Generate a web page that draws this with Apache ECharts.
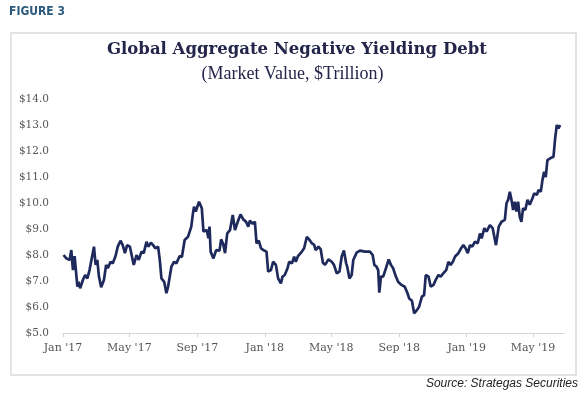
<!DOCTYPE html>
<html>
<head>
<meta charset="utf-8">
<script src="https://cdn.jsdelivr.net/npm/echarts@6/dist/echarts.min.js"></script>
<style>
  html, body { margin: 0; padding: 0; background: #fff; }
  #chart { width: 585px; height: 397px; }
</style>
</head>
<body>
<div id="chart"></div>
<script>
// dates and market value ($ trillion)
const dates = [
  '2017-01-02','2017-01-07','2017-01-13','2017-01-16','2017-01-19','2017-01-22','2017-01-27','2017-01-29',
  '2017-02-01','2017-02-06','2017-02-10','2017-02-14','2017-02-18','2017-02-21','2017-02-26','2017-03-01',
  '2017-03-04','2017-03-07','2017-03-11','2017-03-16','2017-03-20','2017-03-23','2017-03-28','2017-04-01',
  '2017-04-06','2017-04-10','2017-04-15','2017-04-19','2017-04-23','2017-04-27','2017-05-02','2017-05-06',
  '2017-05-09','2017-05-14','2017-05-18','2017-05-23','2017-05-27','2017-06-01','2017-06-04','2017-06-09',
  '2017-06-13','2017-06-17','2017-06-22','2017-06-25','2017-06-28','2017-07-03','2017-07-07','2017-07-10',
  '2017-07-16','2017-07-21','2017-07-25','2017-07-31','2017-08-04','2017-08-09','2017-08-15','2017-08-21',
  '2017-08-24','2017-08-26','2017-08-29','2017-09-04','2017-09-09','2017-09-12','2017-09-15','2017-09-18',
  '2017-09-21','2017-09-23','2017-09-25','2017-09-30','2017-10-05','2017-10-11','2017-10-14','2017-10-18',
  '2017-10-21','2017-10-25','2017-10-30','2017-11-04','2017-11-08','2017-11-13','2017-11-18','2017-11-23',
  '2017-11-28','2017-12-02','2017-12-05','2017-12-10','2017-12-14','2017-12-17','2017-12-21','2017-12-25',
  '2017-12-29','2018-01-04','2018-01-07','2018-01-12','2018-01-16','2018-01-21','2018-01-25','2018-01-30',
  '2018-02-02','2018-02-06','2018-02-11','2018-02-14','2018-02-19','2018-02-23','2018-02-26','2018-03-02',
  '2018-03-09','2018-03-13','2018-03-18','2018-03-22','2018-03-27','2018-03-31','2018-04-03','2018-04-08',
  '2018-04-12','2018-04-16','2018-04-20','2018-04-26','2018-05-02','2018-05-06','2018-05-11','2018-05-16',
  '2018-05-20','2018-05-24','2018-05-28','2018-05-30','2018-06-03','2018-06-07','2018-06-10','2018-06-16',
  '2018-06-22','2018-07-01','2018-07-10','2018-07-15','2018-07-18','2018-07-22','2018-07-25','2018-07-27',
  '2018-07-30','2018-08-03','2018-08-08','2018-08-13','2018-08-17','2018-08-21','2018-08-26','2018-08-30',
  '2018-09-05','2018-09-11','2018-09-16','2018-09-19','2018-09-24','2018-09-28','2018-10-03','2018-10-07',
  '2018-10-12','2018-10-16','2018-10-19','2018-10-24','2018-10-28','2018-11-02','2018-11-06','2018-11-11',
  '2018-11-15','2018-11-20','2018-11-25','2018-11-29','2018-12-03','2018-12-07','2018-12-11','2018-12-17',
  '2018-12-22','2018-12-26','2018-12-30','2019-01-03','2019-01-07','2019-01-11','2019-01-16','2019-01-21',
  '2019-01-25','2019-01-28','2019-02-02','2019-02-06','2019-02-12','2019-02-17','2019-02-20','2019-02-23',
  '2019-02-26','2019-02-28','2019-03-05','2019-03-11','2019-03-14','2019-03-17','2019-03-20','2019-03-23',
  '2019-03-26','2019-03-29','2019-04-01','2019-04-04','2019-04-07','2019-04-10','2019-04-13','2019-04-17',
  '2019-04-21','2019-04-25','2019-04-30','2019-05-03','2019-05-08','2019-05-11','2019-05-15','2019-05-18',
  '2019-05-21','2019-05-24','2019-05-27','2019-06-01','2019-06-07','2019-06-10','2019-06-13','2019-06-16',
  '2019-06-19'
];
const values = [
  8.00, 7.87, 7.81, 8.19, 7.42, 7.96, 6.78, 6.97,
  6.72, 7.04, 7.23, 7.10, 7.42, 7.35, 8.32, 7.62,
  7.81, 7.17, 6.76, 7.04, 7.62, 7.49, 7.74, 7.68,
  7.96, 8.32, 8.55, 8.38, 8.07, 8.38, 8.32, 7.91,
  7.62, 8.00, 7.81, 8.13, 8.07, 8.51, 8.32, 8.47,
  8.38, 8.26, 8.32, 7.81, 7.10, 6.97, 6.53, 6.78,
  7.55, 7.74, 7.68, 7.96, 7.92, 8.58, 8.70, 9.09,
  9.60, 9.86, 9.67, 10.05, 9.80, 8.90, 8.83, 8.96,
  8.64, 9.09, 8.13, 7.87, 8.19, 8.17, 8.60, 8.40,
  8.07, 8.83, 8.96, 9.54, 8.96, 9.28, 9.56, 9.37,
  9.28, 9.09, 9.32, 9.20, 9.28, 8.45, 8.55, 8.26,
  8.19, 8.13, 7.36, 7.42, 7.74, 7.62, 7.10, 6.91,
  7.17, 7.23, 7.49, 7.74, 7.68, 7.94, 7.74, 7.96,
  8.13, 8.26, 8.70, 8.60, 8.45, 8.40, 8.19, 8.32,
  8.22, 7.70, 7.62, 7.83, 7.74, 7.62, 7.30, 7.36,
  7.94, 8.17, 7.68, 7.55, 7.10, 7.23, 7.81, 8.09,
  8.17, 8.13, 8.13, 8.00, 7.62, 7.55, 7.42, 6.55,
  7.17, 7.17, 7.49, 7.83, 7.62, 7.49, 7.17, 6.97,
  6.85, 6.78, 6.53, 6.33, 6.24, 5.76, 5.88, 6.01,
  6.40, 6.46, 7.23, 7.17, 6.78, 6.85, 7.04, 7.23,
  7.17, 7.30, 7.42, 7.74, 7.62, 7.74, 7.94, 8.07,
  8.26, 8.38, 8.26, 8.07, 8.38, 8.32, 8.51, 8.45,
  8.83, 8.64, 9.03, 8.90, 9.15, 9.03, 8.70, 8.38,
  8.45, 9.09, 9.28, 9.35, 9.99, 10.12, 10.43, 10.12,
  9.73, 10.05, 9.67, 10.05, 9.47, 9.28, 9.80, 9.73,
  10.12, 9.93, 10.18, 10.37, 10.31, 10.50, 10.43, 10.88,
  11.20, 11.00, 11.65, 11.72, 11.78, 12.49, 13.00, 12.87,
  13.00
];
// x-axis labels: every four months
const tickDates = ['2017-01-01','2017-05-01','2017-09-01','2018-01-01','2018-05-01','2018-09-01','2019-01-01','2019-05-01'];
const xMinDate = '2017-01-01';
const xMaxDate = '2019-06-26';
const monthNames = ['Jan','Feb','Mar','Apr','May','Jun','Jul','Aug','Sep','Oct','Nov','Dec'];

function toTime(s) {
  const p = s.split('-').map(Number);
  return new Date(p[0], p[1] - 1, p[2]).getTime();
}

const tickValues = tickDates.map(toTime);
const seriesData = dates.map((d, i) => [toTime(d), values[i]]);

const chart = echarts.init(document.getElementById('chart'), null, { renderer: 'canvas' });

chart.setOption({
  animation: false,
  backgroundColor: '#fff',
  graphic: [
    {
      type: 'rect',
      shape: { x: 11, y: 33, width: 565, height: 342 },
      style: { fill: 'none', stroke: '#e3e3e3', lineWidth: 2 },
      silent: true
    },
    {
      type: 'text',
      left: 9, top: 6,
      style: {
        text: 'FIGURE 3',
        font: 'bold 12px "Liberation Sans Narrow", "DejaVu Sans Condensed", sans-serif',
        fill: '#2b5a7c'
      }
    },
    {
      type: 'text',
      right: 7, top: 378,
      style: {
        text: 'Source: Strategas Securities',
        font: 'italic 12px "Liberation Sans", Arial, sans-serif',
        fill: '#222'
      }
    }
  ],
  title: [
    {
      text: 'Global Aggregate Negative Yielding Debt',
      left: 102,
      top: 36,
      textStyle: {
        fontFamily: '"DejaVu Serif", serif',
        fontWeight: 'bold',
        fontSize: 16.5,
        color: '#23264a'
      }
    },
    {
      text: '(Market Value, $Trillion)',
      left: 'center',
      top: 60,
      textStyle: {
        fontFamily: '"Liberation Serif", serif',
        fontWeight: 'normal',
        fontSize: 18,
        color: '#23264a'
      }
    }
  ],
  grid: { left: 63, right: 21, top: 99, bottom: 64 },
  xAxis: {
    type: 'value',
    min: toTime(xMinDate),
    max: toTime(xMaxDate),
    axisLine: { show: true, lineStyle: { color: '#d4d4d4', width: 1 } },
    axisTick: { show: true, customValues: tickValues, length: 4, lineStyle: { color: '#d4d4d4' } },
    axisLabel: {
      customValues: tickValues,
      margin: 10,
      fontFamily: '"DejaVu Serif", serif',
      fontSize: 11,
      color: '#555',
      formatter: v => {
        const d = new Date(v);
        return monthNames[d.getMonth()] + " '" + String(d.getFullYear()).slice(2);
      }
    },
    splitLine: { show: false }
  },
  yAxis: {
    type: 'value',
    min: 5,
    max: 14,
    interval: 1,
    axisLine: { show: false },
    axisTick: { show: false },
    splitLine: { show: false },
    axisLabel: {
      margin: 14,
      fontFamily: '"DejaVu Serif", serif',
      fontSize: 10.5,
      color: '#555',
      formatter: v => '$' + v.toFixed(1)
    }
  },
  series: [{
    type: 'line',
    data: seriesData,
    showSymbol: false,
    lineStyle: { color: '#1f2a5c', width: 2.7 },
    itemStyle: { color: '#1f2a5c' }
  }]
});
</script>
</body>
</html>
